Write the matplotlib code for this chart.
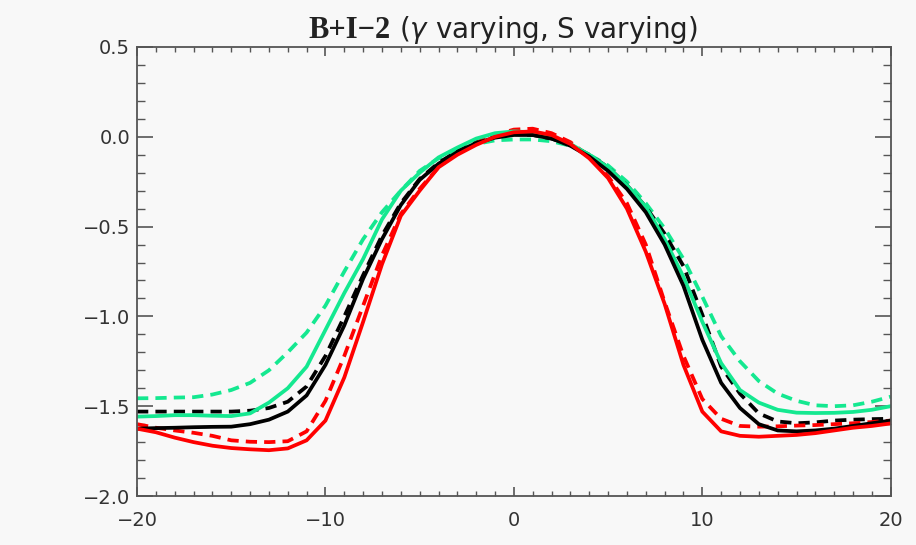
import matplotlib
matplotlib.use("Agg")
import matplotlib.pyplot as plt
from matplotlib.ticker import MultipleLocator

x = list(range(-20, 21))

black_solid = [-1.625, -1.622, -1.62, -1.617, -1.615, -1.614, -1.60, -1.575, -1.53, -1.44,
               -1.27, -1.05, -0.79, -0.57, -0.38, -0.24, -0.15, -0.085, -0.035, -0.005,
               0.01, 0.01, -0.01, -0.05, -0.11, -0.19, -0.29, -0.42, -0.60, -0.83,
               -1.13, -1.37, -1.51, -1.60, -1.635, -1.64, -1.635, -1.625, -1.61, -1.595, -1.58]
black_dashed = [-1.53, -1.53, -1.53, -1.53, -1.53, -1.53, -1.525, -1.51, -1.475, -1.39,
                -1.22, -1.00, -0.77, -0.55, -0.37, -0.235, -0.145, -0.08, -0.03, 0.0,
                0.015, 0.01, -0.01, -0.045, -0.10, -0.17, -0.27, -0.39, -0.54, -0.72,
                -0.99, -1.28, -1.43, -1.54, -1.585, -1.595, -1.59, -1.58, -1.575, -1.572, -1.57]
green_solid = [-1.558, -1.555, -1.55, -1.55, -1.553, -1.555, -1.54, -1.48, -1.40, -1.28,
               -1.075, -0.87, -0.68, -0.46, -0.30, -0.20, -0.115, -0.06, -0.01, 0.02,
               0.03, 0.025, 0.0, -0.04, -0.10, -0.17, -0.27, -0.39, -0.57, -0.78,
               -1.03, -1.26, -1.41, -1.48, -1.52, -1.536, -1.538, -1.537, -1.532, -1.52, -1.50]
green_dashed = [-1.456, -1.455, -1.452, -1.45, -1.435, -1.41, -1.37, -1.30, -1.20, -1.09,
                -0.94, -0.75, -0.57, -0.42, -0.30, -0.19, -0.12, -0.075, -0.04, -0.02,
                -0.015, -0.015, -0.025, -0.05, -0.10, -0.16, -0.25, -0.37, -0.51, -0.68,
                -0.89, -1.11, -1.25, -1.36, -1.43, -1.47, -1.495, -1.50, -1.495, -1.475, -1.447]
red_solid = [-1.625, -1.645, -1.675, -1.70, -1.72, -1.733, -1.74, -1.745, -1.735, -1.69,
             -1.58, -1.34, -1.03, -0.71, -0.44, -0.30, -0.17, -0.10, -0.045, 0.0,
             0.025, 0.03, 0.01, -0.04, -0.12, -0.23, -0.40, -0.64, -0.93, -1.27,
             -1.53, -1.64, -1.665, -1.67, -1.665, -1.66, -1.65, -1.635, -1.62, -1.61, -1.596]
red_dashed = [-1.60, -1.62, -1.635, -1.648, -1.665, -1.69, -1.698, -1.70, -1.695, -1.64,
              -1.47, -1.22, -0.94, -0.66, -0.43, -0.29, -0.17, -0.09, -0.035, 0.01,
              0.04, 0.045, 0.02, -0.03, -0.11, -0.22, -0.37, -0.60, -0.92, -1.22,
              -1.46, -1.57, -1.61, -1.614, -1.612, -1.608, -1.605, -1.60, -1.595, -1.588, -1.58]

x_ticks = [-20, -10, 0, 10, 20]
x_labels = ["\u221220", "\u221210", "0", "10", "20"]
y_ticks = [0.5, 0.0, -0.5, -1.0, -1.5, -2.0]
y_labels = ["0.5", "0.0", "\u22120.5", "\u22121.0", "\u22121.5", "\u22122.0"]
title_bold = "B+I\u22122"
title_rest = r"($\gamma$ varying, S varying)"

GREEN = "#14e890"
BG = "#f8f8f8"
AX = "#555555"

plt.rcParams["mathtext.fontset"] = "custom"
plt.rcParams["mathtext.it"] = "DejaVu Sans:italic"

fig = plt.figure(figsize=(9.16, 5.45), dpi=100, facecolor=BG)
ax = fig.add_axes([0.1496, 0.0899, 0.8228, 0.8239], facecolor=BG)

lw = 2.7
dash = (0, (3.0, 1.9))
ax.plot(x, green_dashed, color=GREEN, lw=lw, linestyle=dash)
ax.plot(x, black_dashed, color="black", lw=lw, linestyle=dash)
ax.plot(x, red_dashed, color="red", lw=lw, linestyle=dash)
ax.plot(x, green_solid, color=GREEN, lw=lw)
ax.plot(x, black_solid, color="black", lw=lw)
ax.plot(x, red_solid, color="red", lw=lw)

ax.set_xlim(-20, 20)
ax.set_ylim(-2.0, 0.5)
ax.set_xticks(x_ticks)
ax.set_xticklabels(x_labels)
ax.set_yticks(y_ticks)
ax.set_yticklabels(y_labels)
ax.xaxis.set_minor_locator(MultipleLocator(1))
ax.yaxis.set_minor_locator(MultipleLocator(0.1))

for s in ax.spines.values():
    s.set_color(AX)
    s.set_linewidth(1.3)

ax.tick_params(axis="x", which="major", direction="in", length=6.5, width=1.2,
               color=AX, top=True, labelsize=14, labelcolor="#333333", pad=11)
ax.tick_params(axis="x", which="minor", direction="in", length=3.3, width=1.0,
               color=AX, top=True)
ax.tick_params(axis="y", which="major", direction="in", length=11.5, width=1.2,
               color=AX, right=True, labelsize=14, labelcolor="#333333", pad=5)
ax.tick_params(axis="y", which="minor", direction="in", length=5.8, width=1.0,
               color=AX, right=True)

y_base = 1 - 38 / 545
fig.text(391 / 916, y_base, title_bold, ha="right", va="baseline",
         fontsize=22, fontweight="bold", family="Liberation Serif", color="#222222")
fig.text(399 / 916, y_base, title_rest, ha="left", va="baseline",
         fontsize=20, color="#222222")

fig.savefig("out.png", dpi=100, facecolor=BG)
